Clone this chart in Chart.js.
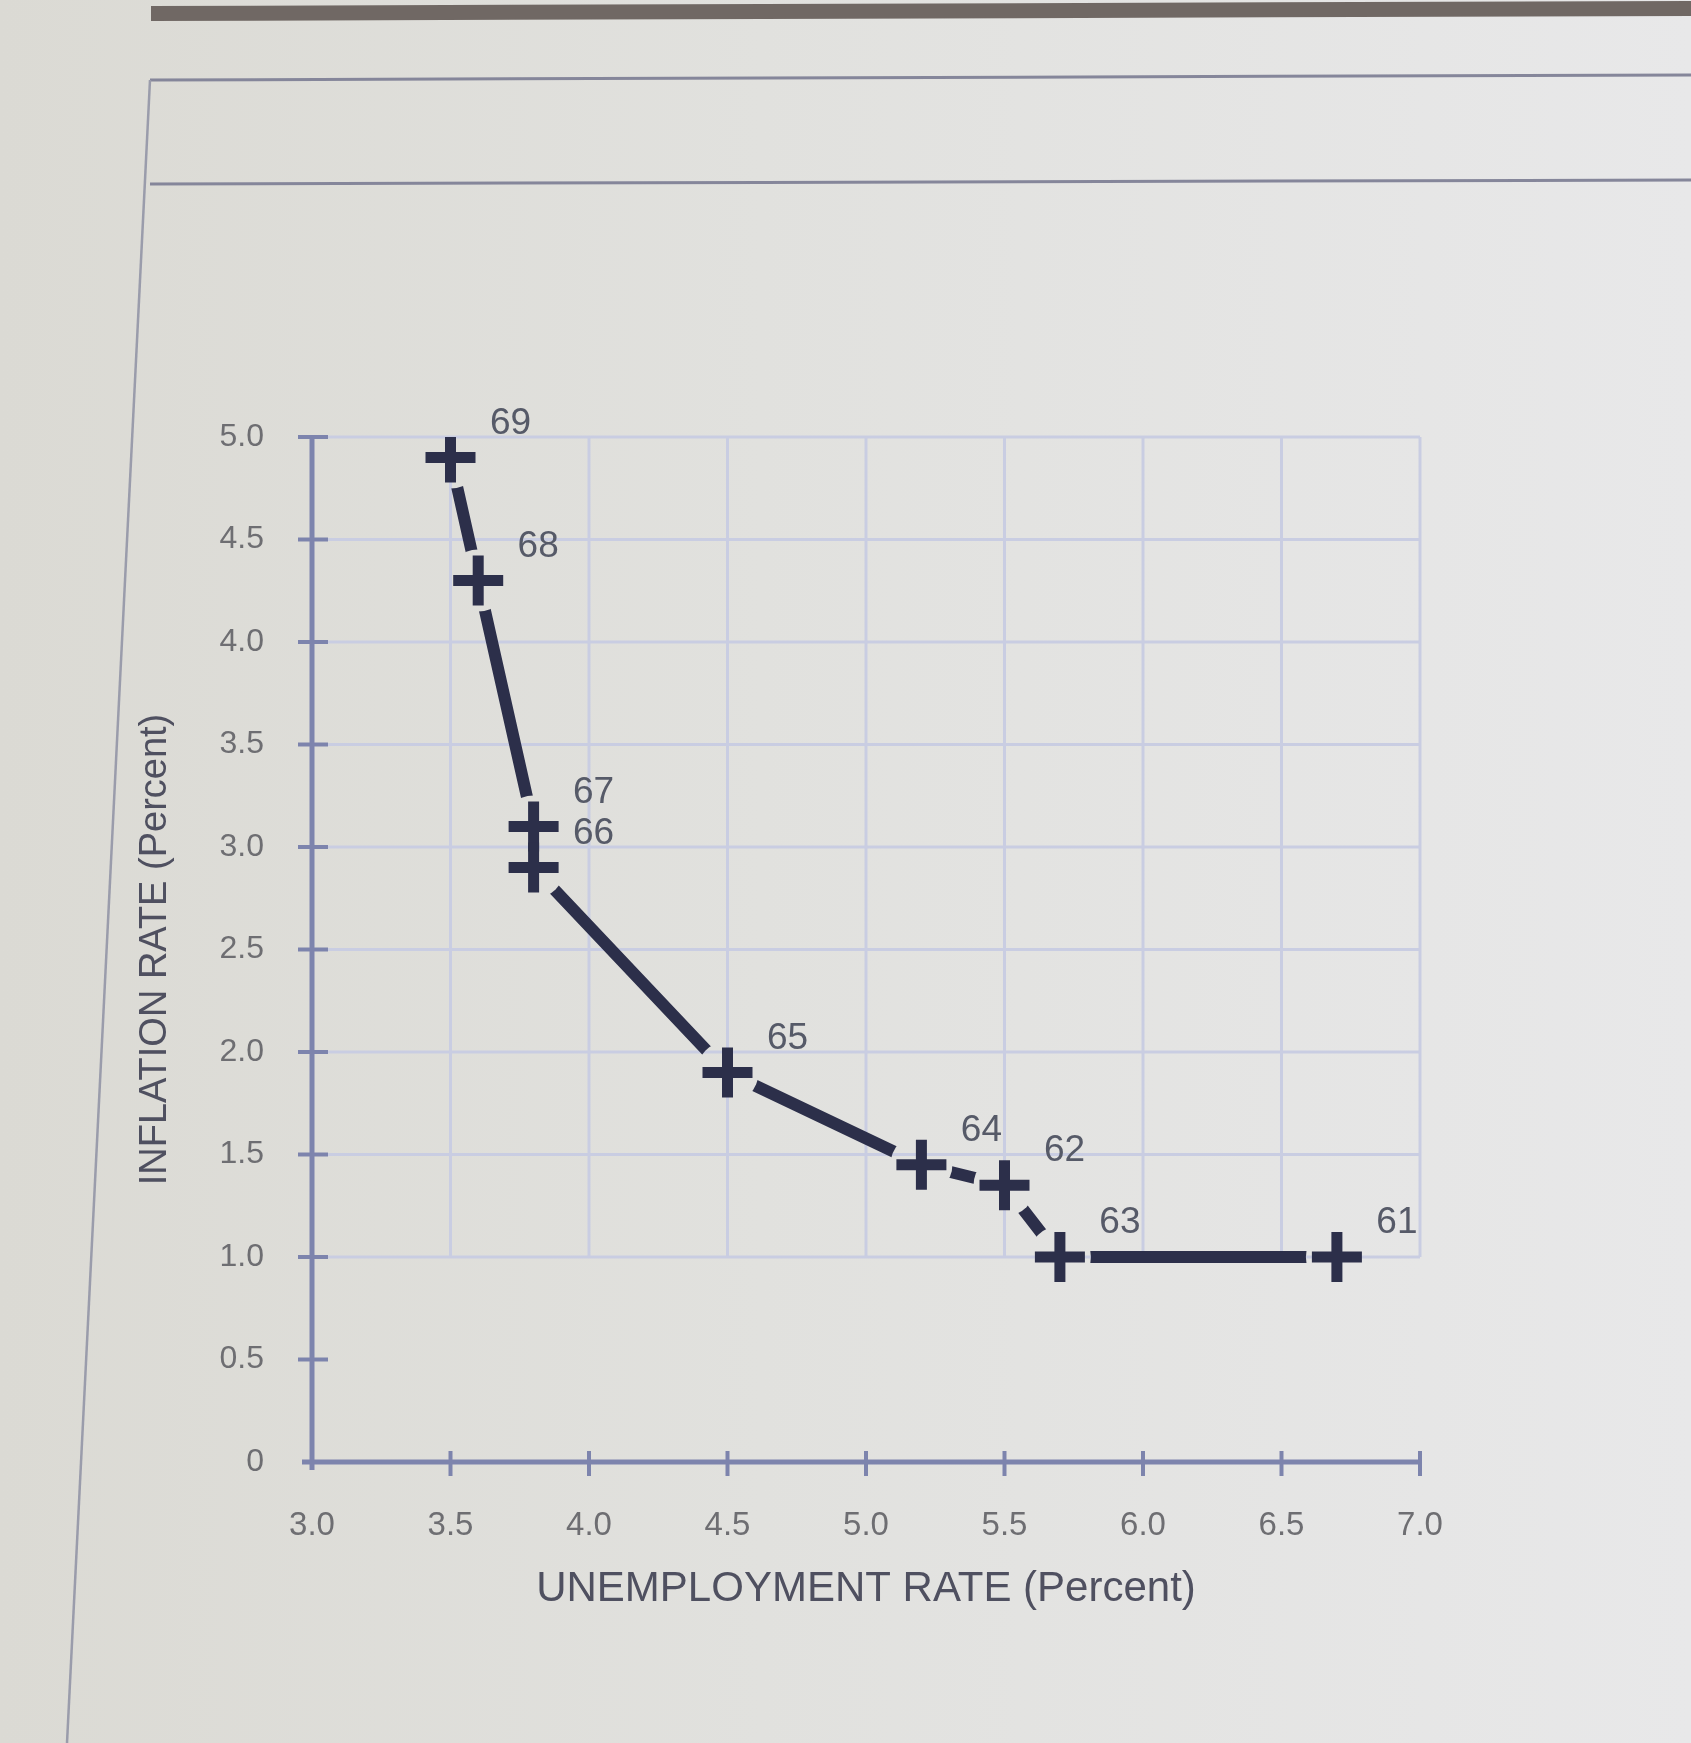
<!DOCTYPE html>
<html>
<head>
<meta charset="utf-8">
<script src="https://cdn.jsdelivr.net/npm/chart.js@4/dist/chart.umd.min.js"></script>
<style>
  html, body { margin: 0; padding: 0; width: 1691px; height: 1743px; overflow: hidden; }
  body { background: linear-gradient(to right, #dbdad4 0%, #e1e1de 45%, #e8e8e9 100%); position: relative; }
  #frame { position: absolute; left: 0; top: 0; }
  #c { position: absolute; left: 0; top: 0; }
</style>
</head>
<body>
<svg id="frame" width="1691" height="1743">
  <polygon points="151,6 1691,1 1691,16 151,21" fill="#706864"/>
  <line x1="150" y1="80" x2="1691" y2="75" stroke="#85869a" stroke-width="3"/>
  <line x1="150" y1="184" x2="1691" y2="180" stroke="#85869a" stroke-width="3"/>
  <line x1="150" y1="80" x2="67" y2="1743" stroke="#9a9cab" stroke-width="2.5"/>
</svg>
<canvas id="c" width="1691" height="1743"></canvas>
<script>
// ---- data (in the order the curve is drawn) ----
const years        = ['69', '68', '67', '66', '65', '64', '62', '63', '61'];
const unemployment = [3.5, 3.6, 3.8, 3.8, 4.5, 5.2, 5.5, 5.7, 6.7];
const inflation    = [4.9, 4.3, 3.1, 2.9, 1.9, 1.45, 1.35, 1.0, 1.0];
const xTicks = [3.0, 3.5, 4.0, 4.5, 5.0, 5.5, 6.0, 6.5, 7.0];
const yTicks = [0, 0.5, 1.0, 1.5, 2.0, 2.5, 3.0, 3.5, 4.0, 4.5, 5.0];
const xTitle = 'UNEMPLOYMENT RATE (Percent)';
const yTitle = 'INFLATION RATE (Percent)';

const points = unemployment.map((u, i) => ({ x: u, y: inflation[i] }));

const LINE = '#2c2f4a';
const AXIS = '#7d84ad';
const GRID = '#c9cde2';
const FONT = '"Liberation Sans", Arial, sans-serif';
const HALO_INDEX = 1;

// halo dataset erases the curve around each marker (gaps in the line)
const haloPlugin = {
  id: 'haloErase',
  beforeDatasetDraw(chart, args) {
    if (args.index === HALO_INDEX) {
      chart.ctx.save();
      chart.ctx.globalCompositeOperation = 'destination-out';
    }
  },
  afterDatasetDraw(chart, args) {
    if (args.index === HALO_INDEX) chart.ctx.restore();
  }
};

// grid and axes drawn behind everything already painted
const gridPlugin = {
  id: 'gridAxes',
  afterDatasetsDraw(chart) {
    const { ctx, scales: { x, y } } = chart;
    ctx.save();
    ctx.globalCompositeOperation = 'destination-over';
    const gTop = y.getPixelForValue(5.0), gBot = y.getPixelForValue(1.0);
    const gR = x.getPixelForValue(7.0);
    const x0 = x.getPixelForValue(3.0), y0 = y.getPixelForValue(0);
    ctx.strokeStyle = AXIS;
    ctx.lineWidth = 4;
    yTicks.forEach(v => {
      if (v === 0) return;
      const py = y.getPixelForValue(v);
      ctx.beginPath(); ctx.moveTo(x0 - 14, py); ctx.lineTo(x0 + 16, py); ctx.stroke();
    });
    xTicks.forEach(v => {
      if (v === 3.0) return;
      const px = x.getPixelForValue(v);
      ctx.beginPath(); ctx.moveTo(px, y0 - 11); ctx.lineTo(px, y0 + 14); ctx.stroke();
    });
    ctx.lineWidth = 5;
    ctx.beginPath(); ctx.moveTo(x0, gTop); ctx.lineTo(x0, y0 + 8); ctx.stroke();
    ctx.beginPath(); ctx.moveTo(x0 - 10, y0); ctx.lineTo(gR, y0); ctx.stroke();
    ctx.strokeStyle = GRID;
    ctx.lineWidth = 3;
    yTicks.filter(v => v >= 1.0).forEach(v => {
      const py = y.getPixelForValue(v);
      ctx.beginPath(); ctx.moveTo(x0, py); ctx.lineTo(gR, py); ctx.stroke();
    });
    xTicks.filter(v => v > 3.0).forEach(v => {
      const px = x.getPixelForValue(v);
      ctx.beginPath(); ctx.moveTo(px, gTop); ctx.lineTo(px, gBot); ctx.stroke();
    });
    ctx.restore();
  }
};

const labelPlugin = {
  id: 'yearLabels',
  afterDraw(chart) {
    const { ctx } = chart;
    const meta = chart.getDatasetMeta(0);
    ctx.save();
    ctx.font = '37px ' + FONT;
    ctx.fillStyle = '#565a68';
    ctx.textAlign = 'center';
    ctx.textBaseline = 'middle';
    meta.data.forEach((pt, i) => {
      ctx.fillText(years[i], pt.x + 60, pt.y - 34);
    });
    ctx.restore();
  }
};

new Chart(document.getElementById('c'), {
  type: 'scatter',
  data: {
    datasets: [
      { // crosses on top
        data: points, showLine: false,
        pointStyle: 'cross', pointRadius: 25, pointHoverRadius: 25,
        pointBorderColor: LINE, pointBorderWidth: 11, pointHoverBorderWidth: 11
      },
      { // halo (erases curve near markers)
        data: points, showLine: false,
        pointStyle: 'circle', pointRadius: 31, pointHoverRadius: 31,
        pointBackgroundColor: '#000', pointBorderWidth: 0
      },
      { // curve
        data: points, showLine: true, borderColor: LINE, borderWidth: 12,
        pointRadius: 0, tension: 0, borderCapStyle: 'butt', borderJoinStyle: 'miter'
      }
    ]
  },
  options: {
    responsive: false,
    animation: false,
    events: [],
    layout: { padding: { left: 133, right: 271, top: 437, bottom: 128 } },
    plugins: { legend: { display: false }, tooltip: { enabled: false } },
    scales: {
      x: {
        type: 'linear', min: 3, max: 7,
        afterBuildTicks: s => { s.ticks = xTicks.map(v => ({ value: v })); },
        afterFit: s => { s.height = 153; },
        grid: { display: false, drawTicks: false },
        border: { display: false },
        ticks: {
          padding: 44, color: '#6e6e72', font: { family: FONT, size: 33 },
          maxRotation: 0, autoSkip: false,
          callback: v => Number(v).toFixed(1)
        },
        title: { display: true, text: xTitle, color: '#4f5060', padding: 0,
                 font: { family: FONT, size: 42 } }
      },
      y: {
        type: 'linear', min: 0, max: 5,
        afterBuildTicks: s => { s.ticks = yTicks.map(v => ({ value: v })); },
        afterFit: s => { s.width = 179; },
        grid: { display: false, drawTicks: false },
        border: { display: false },
        ticks: {
          padding: 48, color: '#6e6e72', font: { family: FONT, size: 32 },
          autoSkip: false,
          callback: v => (v === 0 ? '0' : Number(v).toFixed(1))
        },
        title: { display: true, text: yTitle, color: '#4f5060', padding: 0,
                 font: { family: FONT, size: 38 } }
      }
    }
  },
  plugins: [haloPlugin, gridPlugin, labelPlugin]
});
</script>
</body>
</html>
